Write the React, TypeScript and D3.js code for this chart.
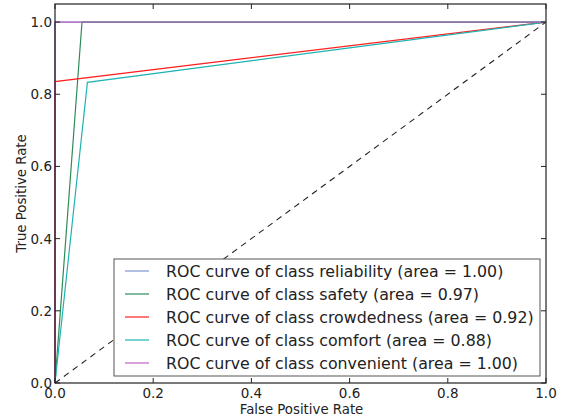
import React from "react";
import * as d3 from "d3";

const classNames = ["reliability", "safety", "crowdedness", "comfort", "convenient"];
const areas = ["1.00", "0.97", "0.92", "0.88", "1.00"];
const colors = ["#7b96cf", "#2e8b57", "#ff2020", "#20b2b2", "#c060c0"];
const fprs = [
  [0, 0, 1],
  [0, 0.055, 1],
  [0, 0, 1],
  [0, 0.066, 1],
  [0, 0, 1],
];
const tprs = [
  [0, 1, 1],
  [0, 1, 1],
  [0, 0.835, 1],
  [0, 0.833, 1],
  [0, 1, 1],
];
const ticks = [0, 0.2, 0.4, 0.6, 0.8, 1.0];

const W = 565, H = 420;
const L = 55, R = 546, T = 4, B = 383;

export default function App() {
  const x = d3.scaleLinear().domain([0, 1]).range([L, R]);
  const y = d3.scaleLinear().domain([0, 1.05]).range([B, T]);
  const line = d3.line<[number, number]>().x((d) => x(d[0])).y((d) => y(d[1]));
  const font = "DejaVu Sans, sans-serif";
  const tl = 5;
  const legX = 114, legY = 259, legW = 426, legH = 117, rowH = 23;
  return (
    <svg width={W} height={H} style={{ position: "absolute", left: 0, top: 0 }} fontFamily={font}>
      <rect x={0} y={0} width={W} height={H} fill="white" />
      <path d={line([[0, 0], [1, 1]])!} stroke="#222" strokeWidth={1.1} strokeDasharray="6,5" fill="none" />
      {fprs.map((f, i) => (
        <path
          key={i}
          d={line(f.map((v, j) => [v, tprs[i][j]] as [number, number]))!}
          stroke={colors[i]}
          strokeWidth={1.2}
          fill="none"
          opacity={i === 4 ? 0.85 : 1}
        />
      ))}
      <rect x={L} y={T} width={R - L} height={B - T} fill="none" stroke="#222" strokeWidth={1.2} />
      {ticks.map((t) => (
        <g key={"x" + t}>
          <line x1={x(t)} x2={x(t)} y1={B} y2={B - tl} stroke="#222" />
          <line x1={x(t)} x2={x(t)} y1={T} y2={T + tl} stroke="#222" />
          <text x={x(t)} y={B + 15} textAnchor="middle" fontSize={13.5} fill="#222">{t.toFixed(1)}</text>
        </g>
      ))}
      {ticks.map((t) => (
        <g key={"y" + t}>
          <line x1={L} x2={L + tl} y1={y(t)} y2={y(t)} stroke="#222" />
          <line x1={R} x2={R - tl} y1={y(t)} y2={y(t)} stroke="#222" />
          <text x={L - 3} y={y(t) + 5} textAnchor="end" fontSize={13.5} fill="#222">{t.toFixed(1)}</text>
        </g>
      ))}
      <text x={(L + R) / 2 + 1} y={414} textAnchor="middle" fontSize={13.3} fill="#222">False Positive Rate</text>
      <text transform={`translate(26,${(T + B) / 2}) rotate(-90)`} textAnchor="middle" fontSize={13.3} fill="#222">True Positive Rate</text>
      <rect x={legX} y={legY} width={legW} height={legH} fill="white" stroke="#555" strokeWidth={1} />
      {classNames.map((c, i) => (
        <g key={c}>
          <line x1={125} x2={149} y1={legY + 12 + i * rowH} y2={legY + 12 + i * rowH} stroke={colors[i]} strokeWidth={1.2} />
          <text x={166} y={legY + 12 + i * rowH + 5.5} fontSize={15.8} fill="#222">
            {`ROC curve of class ${c} (area = ${areas[i]})`}
          </text>
        </g>
      ))}
    </svg>
  );
}
